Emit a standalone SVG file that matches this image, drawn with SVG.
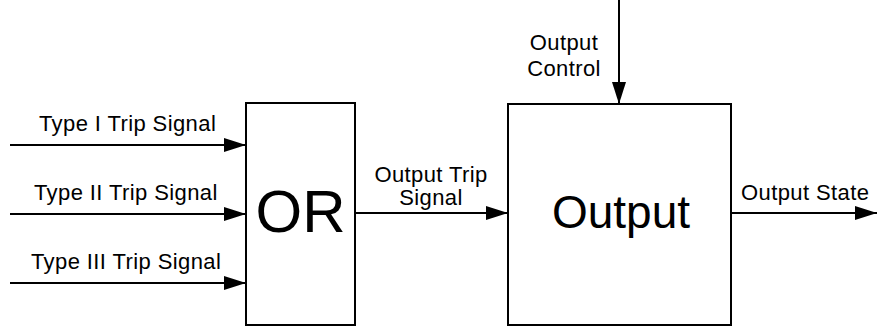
<svg xmlns="http://www.w3.org/2000/svg" width="877" height="327" viewBox="0 0 877 327">
  <defs>
    <marker id="arrow" viewBox="0 0 22 14" refX="22" refY="7" markerWidth="22" markerHeight="14" markerUnits="userSpaceOnUse" orient="auto">
      <path d="M0,0 L22,7 L0,14 Z" fill="#000"/>
    </marker>
    <style>
      .box { fill: #fff; stroke: #000; stroke-width: 2; }
      .conn { fill: none; stroke: #000; stroke-width: 2; marker-end: url(#arrow); }
      .lbl { font-family: "Liberation Sans", Arial, sans-serif; font-size: 22px; letter-spacing: 0.4px; fill: #000; }
      .big { font-family: "Liberation Sans", Arial, sans-serif; fill: #000; text-anchor: middle; }
    </style>
  </defs>
  <rect width="877" height="327" fill="#fff"/>

  <g id="connectors">
    <line class="conn" x1="10" y1="145" x2="246" y2="145"/>
    <line class="conn" x1="10" y1="214" x2="246" y2="214"/>
    <line class="conn" x1="10" y1="283" x2="246" y2="283"/>
    <line class="conn" x1="355" y1="213" x2="508" y2="213"/>
    <line class="conn" x1="731" y1="213" x2="877" y2="213"/>
    <line class="conn" x1="619" y1="0" x2="619" y2="104"/>
  </g>

  <g id="or-node">
    <rect class="box" x="246" y="103" width="109" height="222"/>
    <text class="big" x="300.5" y="232" font-size="60">OR</text>
  </g>

  <g id="output-node">
    <rect class="box" x="508" y="104" width="223" height="221"/>
    <text class="big" x="621" y="228" font-size="46">Output</text>
  </g>

  <g id="labels">
    <text class="lbl" x="39" y="131">Type I Trip Signal</text>
    <text class="lbl" x="34" y="200">Type II Trip Signal</text>
    <text class="lbl" x="31" y="269">Type III Trip Signal</text>
    <text class="lbl" x="431" y="182" text-anchor="middle">Output Trip</text>
    <text class="lbl" x="431" y="205" text-anchor="middle">Signal</text>
    <text class="lbl" x="564" y="50" text-anchor="middle">Output</text>
    <text class="lbl" x="564" y="76" text-anchor="middle">Control</text>
    <text class="lbl" x="741" y="200">Output State</text>
  </g>
</svg>
